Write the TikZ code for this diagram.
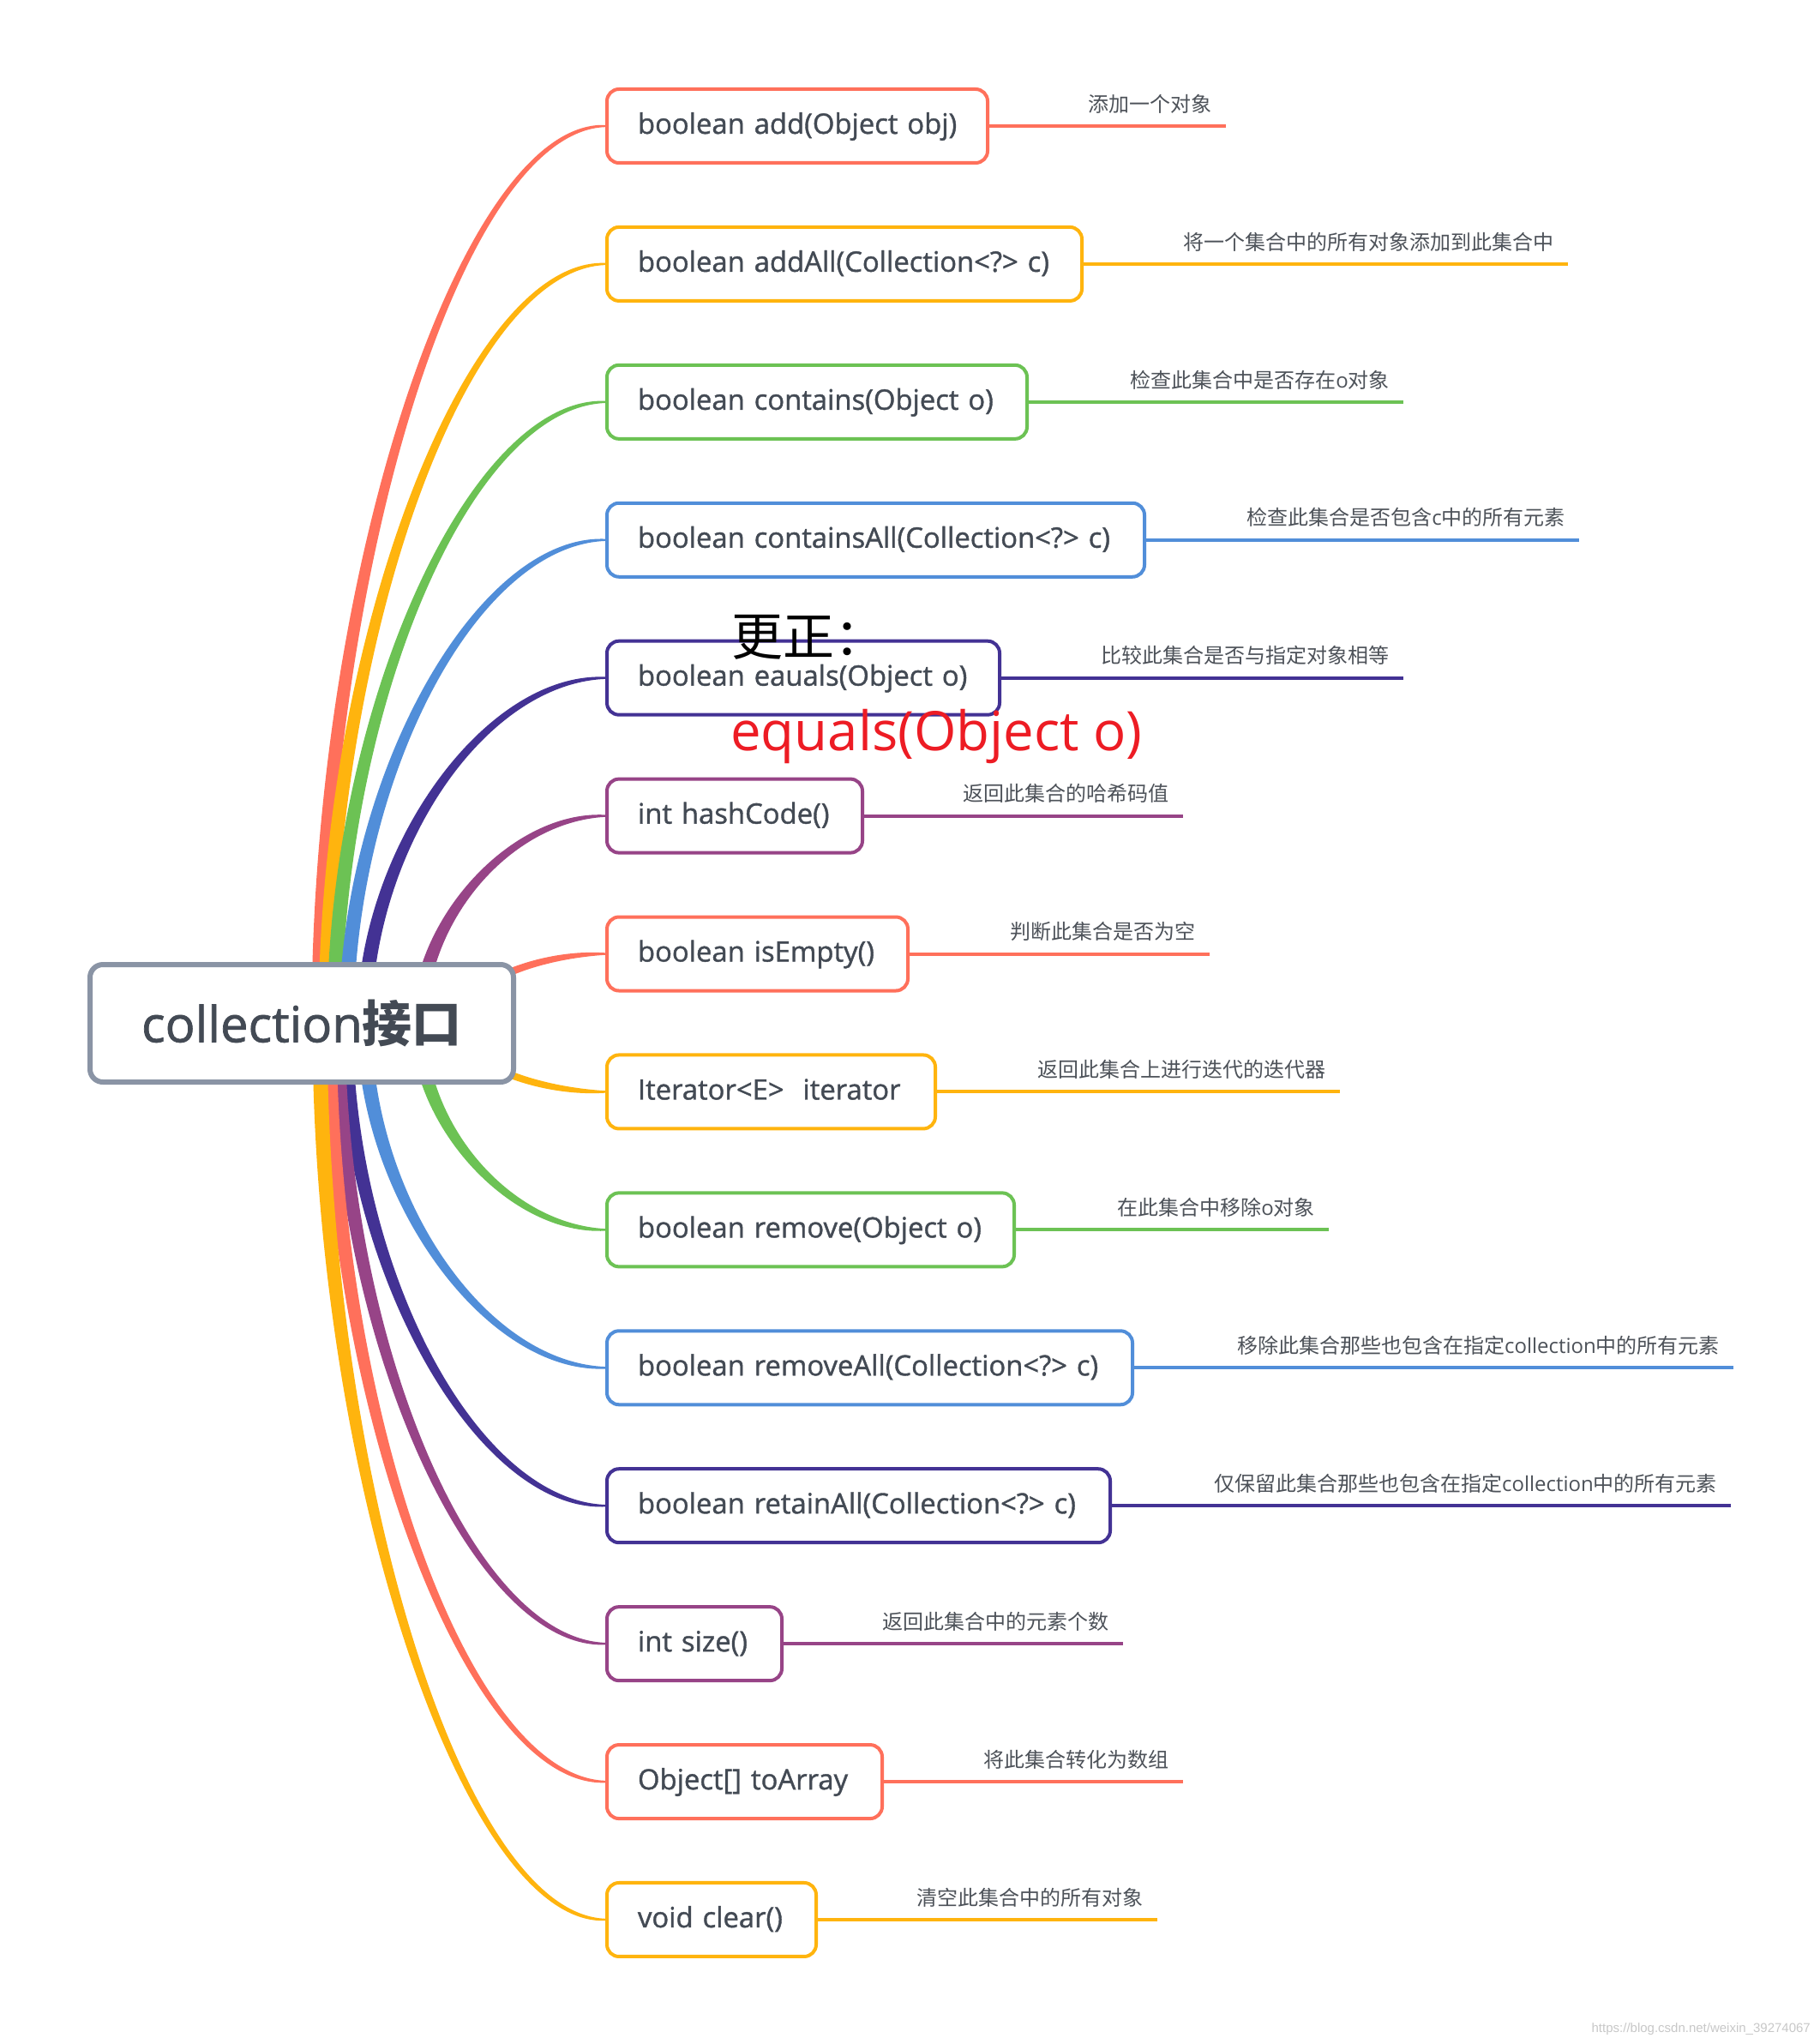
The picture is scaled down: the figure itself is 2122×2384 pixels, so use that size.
\documentclass[tikz,border=0pt]{standalone}
\usepackage{fontspec}
\setmainfont{Open Sans}
\newfontfamily\semib{Open Sans}[FakeBold=1.2]
\newfontfamily\zhfont{Noto Sans CJK SC}
\newfontfamily\wmfont{Liberation Sans}
\usetikzlibrary{calc}
\pgfdeclarelayer{bg}
\pgfsetlayers{bg,main}
\definecolor{cRed}{RGB}{255,112,91}
\definecolor{cYel}{RGB}{255,180,14}
\definecolor{cGrn}{RGB}{108,194,84}
\definecolor{cBlu}{RGB}{81,142,217}
\definecolor{cInd}{RGB}{67,50,148}
\definecolor{cPur}{RGB}{151,68,135}
\definecolor{rootc}{RGB}{138,148,165}
\definecolor{txt}{RGB}{67,74,84}
\definecolor{labc}{RGB}{77,82,89}
\definecolor{corr}{RGB}{237,28,36}
\definecolor{wmc}{RGB}{200,200,200}
\newcommand\zh[1]{{\zhfont #1}}
\tikzset{
  box/.style={draw=#1, line width=4pt, rounded corners=14pt, fill=white,
    inner xsep=36pt, inner ysep=0pt, text height=24pt, text depth=6pt,
    minimum height=86pt, align=left, anchor=west, text=txt,
    font=\semib\fontsize{32.8}{38}\selectfont},
  lab/.style={anchor=east, inner sep=0pt, text=labc,
    font=\fontsize{24}{28}\selectfont},
  rootbox/.style={draw=rootc, line width=6pt, rounded corners=15pt, fill=white,
    minimum width=494pt, minimum height=137pt, inner sep=0pt, text=txt,
    font=\semib\fontsize{58}{70}\selectfont},
}
% #1 index, #2 colour, #3 outer box width, #4 branch start x,
% #5 line end x, #6 box text, #7 label
\newcommand\child[7]{%
  \pgfmathsetmacro\cy{147+160.92*(#1-1)}%
  \pgfmathsetmacro\tw{#3-4-72}%
  \pgfmathsetmacro\hp{(\cy<1193 ? -8.5 : 8.5)}%
  \pgfmathsetmacro\hm{-\hp}%
  \pgfmathsetmacro\kp{(\cy<1193 ? -9 : 9)}%
  \pgfmathsetmacro\km{-\kp}%
  \pgfmathsetmacro\hdy{(\cy-1193.5)/2}%
  \pgfmathsetmacro\cdx{(#4-708)/2}%
  \node[box=#2, text width=\tw pt] (c#1) at (706,\cy) {\mbox{#6}};
  \coordinate (s#1) at ($(root.center)+(#4-352,0)$);
  \coordinate (e#1) at (#5,\cy);
  \draw[#2, line width=4pt] (c#1.east) -- (e#1);
  \node[lab] (l#1) at ($(e#1)+(-16,-26)$) {#7};
  \begin{pgfonlayer}{bg}
  \fill[#2] ($(s#1)+(\hp,0)$) .. controls ($(s#1)+(\kp,\hdy)$) and ($(c#1.west)+(\cdx,-7)$) .. ($(c#1.west)+(0,-1.2)$)
     -- ($(c#1.west)+(0,1.2)$) .. controls ($(c#1.west)+(\cdx,7)$) and ($(s#1)+(\km,\hdy)$) .. ($(s#1)+(\hm,0)$) -- cycle;
  \end{pgfonlayer}
}
\begin{document}
\begin{tikzpicture}[x=1pt,y=-1pt]
\begin{pgfonlayer}{bg}
\fill[white] (0,0) rectangle (2122,2384);
\end{pgfonlayer}
\useasboundingbox (0,0) rectangle (2122,2384);

\node[rootbox] (root) at (352,1193.5) {collection\zh{\bfseries 接口}};

\child{1}{cRed}{448}{372}{1430}{boolean add(Object obj)}{\zh{添加一个对象}}
\child{2}{cYel}{558}{380}{1829}{boolean addAll(Collection<?> c)}{\zh{将一个集合中的所有对象添加到此集合中}}
\child{3}{cGrn}{494}{390}{1637}{boolean contains(Object o)}{\zh{检查此集合中是否存在}o\zh{对象}}
\child{4}{cBlu}{631}{404}{1842}{boolean containsAll(Collection<?> c)}{\zh{检查此集合是否包含}c\zh{中的所有元素}}
\child{5}{cInd}{462}{425}{1637}{boolean eauals(Object o)}{\zh{比较此集合是否与指定对象相等}}
\child{6}{cPur}{302}{489}{1380}{int hashCode()}{\zh{返回此集合的哈希码值}}
\child{7}{cRed}{355}{532}{1411}{boolean isEmpty()}{\zh{判断此集合是否为空}}
\child{8}{cYel}{387}{528}{1563}{Iterator<E>\ \ iterator}{\zh{返回此集合上进行迭代的迭代器}}
\child{9}{cGrn}{479}{488}{1550}{boolean remove(Object o)}{\zh{在此集合中移除}o\zh{对象}}
\child{10}{cBlu}{617}{425}{2022}{boolean removeAll(Collection<?> c)}{\zh{移除此集合那些也包含在指定}collection\zh{中的所有元素}}
\child{11}{cInd}{591}{403}{2019}{boolean retainAll(Collection<?> c)}{\zh{仅保留此集合那些也包含在指定}collection\zh{中的所有元素}}
\child{12}{cPur}{208}{394}{1310}{int size()}{\zh{返回此集合中的元素个数}}
\child{13}{cRed}{325}{384}{1380}{Object[] toArray}{\zh{将此集合转化为数组}}
\child{14}{cYel}{248}{373}{1350}{void clear()}{\zh{清空此集合中的所有对象}}

\node[anchor=west, inner sep=0pt, font=\zhfont\fontsize{60}{70}\selectfont] (fix) at (853,743) {更正：};
\node[anchor=base west, inner sep=0pt, text=corr, font=\fontsize{63.5}{74}\selectfont] (eq) at (852,875) {equals(Object o)};
\node[anchor=base east, inner sep=0pt, text=wmc, font=\wmfont\fontsize{15}{18}\selectfont] (wm) at (2112,2370) {https://blog.csdn.net/weixin\_39274067};
\end{tikzpicture}
\end{document}
